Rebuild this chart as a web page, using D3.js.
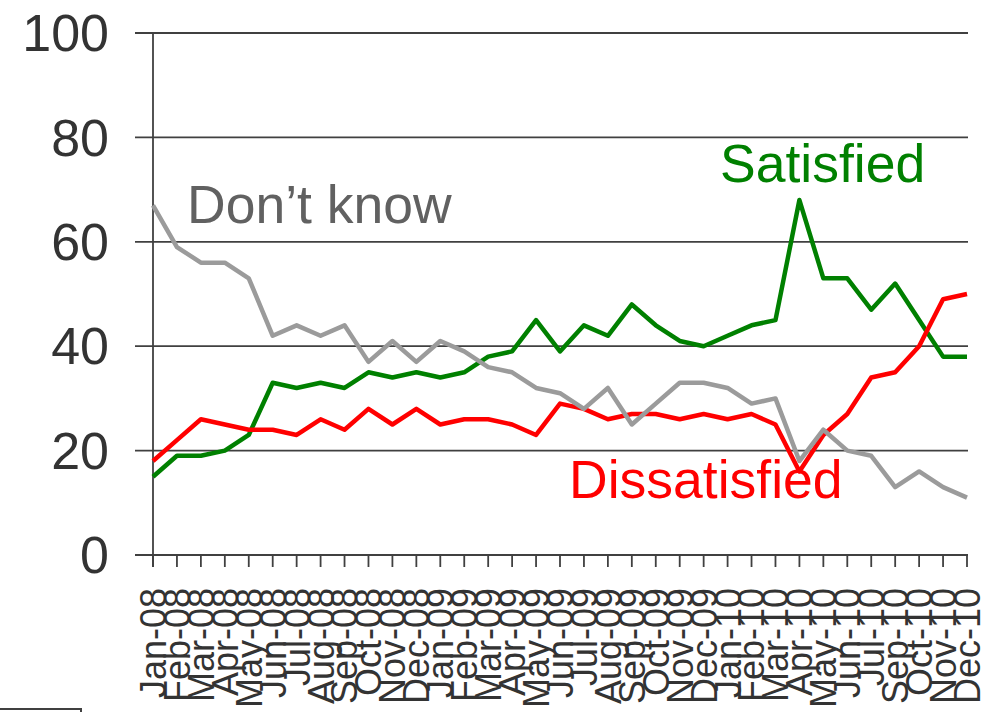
<!DOCTYPE html>
<html>
<head>
<meta charset="utf-8">
<script src="https://cdn.jsdelivr.net/npm/d3@7"></script>
<style>
  html, body { margin: 0; padding: 0; background: #fff; }
  svg { display: block; }
  text { font-family: "Liberation Sans", Arial, Helvetica, sans-serif; }
</style>
</head>
<body>
<svg id="chart" width="981" height="712"></svg>
<script>
const months = ["Jan-08","Feb-08","Mar-08","Apr-08","May-08","Jun-08","Jul-08","Aug-08","Sep-08","Oct-08","Nov-08","Dec-08",
                "Jan-09","Feb-09","Mar-09","Apr-09","May-09","Jun-09","Jul-09","Aug-09","Sep-09","Oct-09","Nov-09","Dec-09",
                "Jan-10","Feb-10","Mar-10","Apr-10","May-10","Jun-10","Jul-10","Sep-10","Oct-10","Nov-10","Dec-10"];
const satisfied    = [15,19,19,20,23,33,32,33,32,35,34,35,34,35,38,39,45,39,44,42,48,44,41,40,42,44,45,68,53,53,47,52,45,38,38];
const dissatisfied = [18,22,26,25,24,24,23,26,24,28,25,28,25,26,26,25,23,29,28,26,27,27,26,27,26,27,25,16,23,27,34,35,40,49,50];
const dontKnow     = [67,59,56,56,53,42,44,42,44,37,41,37,41,39,36,35,32,31,28,32,25,29,33,33,32,29,30,18,24,20,19,13,16,13,11];
const yTicks = [0, 20, 40, 60, 80, 100];
const seriesNames = ["Satisfied", "Dissatisfied", "Don\u2019t know"];

const svg = d3.select("#chart");
const x = d3.scalePoint().domain(months).range([153, 967]);
const y = d3.scaleLinear().domain([0, 100]).range([555, 33]);

const axisColor = "#404040";
const textColor = "#333333";

// gridlines (extend left as tick marks)
svg.append("g").selectAll("line").data(yTicks).join("line")
  .attr("x1", 135).attr("x2", 968)
  .attr("y1", d => y(d)).attr("y2", d => y(d))
  .attr("stroke", axisColor).attr("stroke-width", 1.8);

// y axis line
svg.append("line").attr("x1", 153).attr("x2", 153).attr("y1", y(100)).attr("y2", y(0) + 12)
  .attr("stroke", axisColor).attr("stroke-width", 1.8);

// y tick labels
svg.append("g").selectAll("text").data(yTicks).join("text")
  .attr("x", 109).attr("y", d => y(d)).attr("dy", "0.35em")
  .attr("text-anchor", "end").attr("font-size", 52).attr("fill", textColor)
  .text(d => d);

// x axis ticks
svg.append("g").selectAll("line").data(months).join("line")
  .attr("x1", d => x(d)).attr("x2", d => x(d))
  .attr("y1", y(0)).attr("y2", y(0) + 12)
  .attr("stroke", axisColor).attr("stroke-width", 1.8);

// x labels rotated
svg.append("g").selectAll("text").data(months).join("text")
  .attr("transform", d => `translate(${x(d)},588) rotate(-90)`)
  .attr("dy", "0.36em")
  .attr("text-anchor", "end").attr("font-size", 36).attr("fill", textColor)
  .text(d => d);

// lines
const series = [
  { name: seriesNames[0], values: satisfied, color: "#008000" },
  { name: seriesNames[1], values: dissatisfied, color: "#ff0000" },
  { name: seriesNames[2], values: dontKnow, color: "#9b9b9b" }
];
const line = d3.line().x((d, i) => x(months[i])).y(d => y(d));
svg.append("g").selectAll("path").data(series).join("path")
  .attr("d", s => line(s.values))
  .attr("fill", "none").attr("stroke", s => s.color)
  .attr("stroke-width", 4.5).attr("stroke-linejoin", "round").attr("stroke-linecap", "butt");

// series labels
svg.append("text").attr("x", 720).attr("y", 182).attr("font-size", 53.5).attr("fill", "#008000").text(seriesNames[0]);
svg.append("text").attr("x", 569).attr("y", 498).attr("font-size", 53.5).attr("fill", "#ff0000").text(seriesNames[1]);
svg.append("text").attr("x", 187).attr("y", 223).attr("font-size", 53.5).attr("fill", "#616161").text(seriesNames[2]);

// small frame fragment bottom-left
svg.append("path").attr("d", "M0,709H81V712").attr("fill", "none")
  .attr("stroke", axisColor).attr("stroke-width", 2);
</script>
</body>
</html>
